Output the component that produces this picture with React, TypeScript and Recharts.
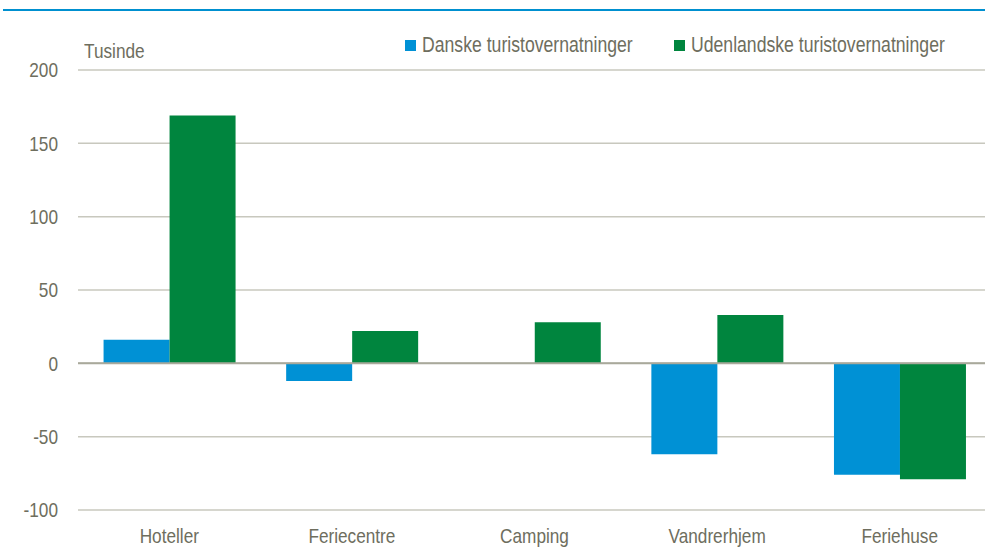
import { BarChart, Bar, XAxis, YAxis, CartesianGrid, ReferenceLine } from 'recharts'

const categories = ['Hoteller', 'Feriecentre', 'Camping', 'Vandrerhjem', 'Feriehuse']
const danske = [16, -12, 0, -62, -76]
const udenlandske = [169, 22, 28, 33, -79]
const yTicks = [-100, -50, 0, 50, 100, 150, 200]

const data = categories.map((name, i) => ({
  name,
  danske: danske[i],
  udenlandske: udenlandske[i],
}))

const textColor = '#6e6e5e'
const font = '"Liberation Sans", Arial, sans-serif'
// the source font is a narrow Arial; squeeze Liberation Sans to match
const narrow = 0.82

const legendItems = [
  { label: 'Danske turistovernatninger', color: '#0091d5', x: 405 },
  { label: 'Udenlandske turistovernatninger', color: '#00853e', x: 674 },
]

function NarrowTick(props: any) {
  const { x, y, payload, anchor, dy } = props
  return (
    <text
      transform={`translate(${x},${y}) scale(${narrow},1)`}
      x={0}
      y={0}
      dy={dy}
      textAnchor={anchor}
      fill={textColor}
      fontSize={21}
      fontFamily={font}
    >
      {payload.value}
    </text>
  )
}

export default function App() {
  return (
    <div
      style={{
        position: 'absolute',
        left: 0,
        top: 0,
        width: 985,
        height: 549,
        overflow: 'hidden',
        background: '#fff',
        fontFamily: font,
      }}
    >
      <div style={{ position: 'absolute', left: 3, top: 9, width: 982, height: 2, background: '#0090d0' }} />
      <div
        style={{
          position: 'absolute',
          left: 84,
          top: 39,
          fontSize: 21,
          color: textColor,
          lineHeight: '24px',
          transform: `scaleX(${narrow})`,
          transformOrigin: 'left center',
        }}
      >
        Tusinde
      </div>
      {legendItems.map((it) => (
        <div
          key={it.label}
          style={{
            position: 'absolute',
            left: it.x,
            top: 33,
            height: 24,
            display: 'flex',
            alignItems: 'center',
            whiteSpace: 'nowrap',
          }}
        >
          <span style={{ width: 11, height: 11, background: it.color, display: 'inline-block', marginRight: 6 }} />
          <span
            style={{
              color: textColor,
              fontSize: 21.5,
              lineHeight: '24px',
              display: 'inline-block',
              transform: `scaleX(${narrow})`,
              transformOrigin: 'left center',
            }}
          >
            {it.label}
          </span>
        </div>
      ))}
      <BarChart
        width={991}
        height={549}
        data={data}
        margin={{ top: 70, right: 0, bottom: 0, left: 0 }}
        barCategoryGap="14%"
        barGap={0}
        style={{ position: 'absolute', left: 0, top: 0 }}
      >
        <CartesianGrid vertical={false} stroke="#c8c8be" strokeWidth={1.5} />
        <XAxis
          dataKey="name"
          axisLine={false}
          tickLine={false}
          tickSize={0}
          tickMargin={18}
          height={39}
          tick={<NarrowTick anchor="middle" dy="0.71em" />}
        />
        <YAxis
          width={78}
          domain={[-100, 200]}
          ticks={yTicks}
          axisLine={false}
          tickLine={false}
          tickSize={0}
          tickMargin={20}
          tick={<NarrowTick anchor="end" dy="0.355em" />}
        />
        <ReferenceLine y={0} stroke="#a9a99b" strokeWidth={2} />
        <Bar dataKey="danske" fill="#0091d5" isAnimationActive={false} />
        <Bar dataKey="udenlandske" fill="#00853e" isAnimationActive={false} />
      </BarChart>
    </div>
  )
}
